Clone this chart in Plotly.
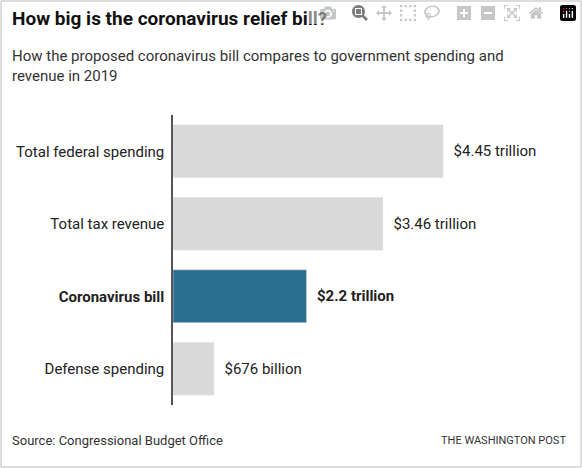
import plotly.graph_objects as go

categories = ["Total federal spending", "Total tax revenue", "Coronavirus bill", "Defense spending"]
tick_labels = ["Total federal spending", "Total tax revenue", "<b>Coronavirus bill</b>", "Defense spending"]
values = [4.45, 3.46, 2.2, 0.676]
value_labels = ["$4.45 trillion", "$3.46 trillion", "<b>$2.2 trillion</b>", "$676 billion"]
colors = ["#d9d9d9", "#d9d9d9", "#2c6e8f", "#d9d9d9"]

W, H = 582, 468
L, R, T, B = 173, 12, 115, 63
pw, ph = W - L - R, H - T - B

def px(x): return (x - L) / pw
def py(y): return (H - B - y) / ph

fig = go.Figure(go.Bar(
    x=values, y=categories, orientation="h", marker_color=colors,
    text=["\u00a0\u00a0" + v for v in value_labels], textposition="outside", cliponaxis=False,
    textfont=dict(size=15, color="#222"), hoverinfo="skip"))

fig.update_layout(
    width=W, height=H, margin=dict(l=L, r=R, t=T, b=B),
    paper_bgcolor="white", plot_bgcolor="white", showlegend=False,
    font=dict(family="Roboto, Liberation Sans, sans-serif", color="#222"),
    bargap=0.27,
    xaxis=dict(range=[0, pw / 60.7], visible=False),
    yaxis=dict(autorange="reversed", tickmode="array", tickvals=categories, ticktext=tick_labels,
               tickfont=dict(size=15, color="#222"), showline=True, linecolor="#555", linewidth=1.5,
               ticks="outside", ticklen=4, tickcolor="white", showgrid=False),
    shapes=[dict(type="rect", xref="paper", yref="paper", x0=px(1), x1=px(W - 1), y0=py(H - 1), y1=py(1),
                 line=dict(color="#bbb", width=1))],
    annotations=[
        dict(text="<b>How big is the coronavirus relief bill?</b>", xref="paper", yref="paper",
             x=px(10), y=py(18), xanchor="left", yanchor="middle", showarrow=False,
             font=dict(size=19, color="#111")),
        dict(text="How the proposed coronavirus bill compares to government spending and<br>revenue in 2019",
             xref="paper", yref="paper", x=px(10), y=py(45), xanchor="left", yanchor="top", showarrow=False,
             align="left", font=dict(size=15, color="#333")),
        dict(text="Source: Congressional Budget Office", xref="paper", yref="paper",
             x=px(10), y=py(440), xanchor="left", yanchor="middle", showarrow=False,
             font=dict(size=13, color="#333")),
        dict(text="THE WASHINGTON POST", xref="paper", yref="paper",
             x=px(568), y=py(440), xanchor="right", yanchor="middle", showarrow=False,
             font=dict(size=11, color="#333")),
    ],
)
fig.write_html("out.html", post_script="document.body.style.margin='0';")
